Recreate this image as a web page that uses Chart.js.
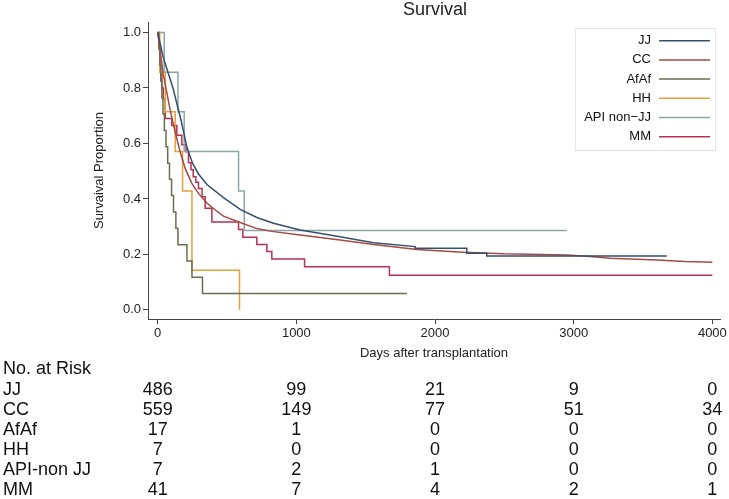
<!DOCTYPE html>
<html>
<head>
<meta charset="utf-8">
<script src="https://cdn.jsdelivr.net/npm/chart.js@4.4.1/dist/chart.umd.min.js"></script>
<style>
  html, body { margin: 0; padding: 0; background: #fff; }
  #wrap { position: relative; width: 729px; height: 499px; }
</style>
</head>
<body>
<div id="wrap"><canvas id="km" width="729" height="499"></canvas></div>
<script>
/* Kaplan-Meier survival by donor/recipient group + number-at-risk table */

const dayTicks = [0, 1000, 2000, 3000, 4000];
const survTicks = [0, 0.2, 0.4, 0.6, 0.8, 1.0];

const groups = ['JJ', 'CC', 'AfAf', 'HH', 'API non\u2212JJ', 'MM'];
const riskLabels = ['JJ', 'CC', 'AfAf', 'HH', 'API-non JJ', 'MM'];
const groupColors = ['#34506e', '#a64a44', '#66714f', '#e6a03c', '#8ea5a8', '#b8304f'];

// curves (days, survival proportion)
const jjDays = [0, 40, 110, 170, 210, 250, 294, 355, 474, 595, 715, 835, 1027, 1315, 1556, 1857, 1857, 2229, 2229, 2373, 2373, 3671];
const jjSurv = [1, 0.91, 0.80, 0.68, 0.588, 0.53, 0.49, 0.452, 0.405, 0.362, 0.333, 0.312, 0.288, 0.264, 0.242, 0.228, 0.222, 0.222, 0.204, 0.204, 0.194, 0.194];

const ccDays = [0, 40, 90, 126, 162, 198, 247, 294, 355, 415, 474, 595, 715, 823, 1000, 1315, 1556, 1870, 2200, 2500, 2950, 3118, 3262, 3599, 3803, 4000];
const ccSurv = [1, 0.85, 0.72, 0.64, 0.57, 0.51, 0.455, 0.42, 0.385, 0.36, 0.338, 0.315, 0.293, 0.283, 0.272, 0.252, 0.236, 0.218, 0.208, 0.202, 0.198, 0.192, 0.186, 0.18, 0.174, 0.172];

const afDays = [0, 8, 15, 22, 30, 38, 48, 60, 72, 85, 100, 114, 131, 146, 211, 247, 323, 1797];
const afSurv = [1, 0.941, 0.882, 0.824, 0.765, 0.706, 0.647, 0.588, 0.529, 0.471, 0.412, 0.353, 0.294, 0.235, 0.176, 0.118, 0.059, 0.059];

const hhDays = [0, 15, 55, 126, 179, 247, 590];
const hhSurv = [1, 0.857, 0.714, 0.571, 0.429, 0.143, 0];

const apiDays = [0, 47, 146, 191, 583, 624, 2950];
const apiSurv = [1, 0.857, 0.714, 0.571, 0.429, 0.286, 0.286];

const mmDays = [0, 8, 15, 22, 30, 40, 54, 102, 138, 174, 205, 222, 240, 256, 275, 294, 320, 342, 391, 583, 614, 715, 787, 823, 1059, 1671, 4000];
const mmSurv = [1, 0.95, 0.90, 0.85, 0.80, 0.76, 0.69, 0.665, 0.63, 0.595, 0.57, 0.53, 0.505, 0.48, 0.46, 0.438, 0.408, 0.366, 0.317, 0.29, 0.262, 0.236, 0.21, 0.183, 0.155, 0.125, 0.125];

// number at risk at 0/1000/2000/3000/4000 days
const riskJJ = [486, 99, 21, 9, 0];
const riskCC = [559, 149, 77, 51, 34];
const riskAfAf = [17, 1, 0, 0, 0];
const riskHH = [7, 0, 0, 0, 0];
const riskAPI = [7, 2, 1, 0, 0];
const riskMM = [41, 7, 4, 2, 1];

const curves = [
  { days: jjDays, surv: jjSurv, stepped: false },
  { days: ccDays, surv: ccSurv, stepped: false },
  { days: afDays, surv: afSurv, stepped: true },
  { days: hhDays, surv: hhSurv, stepped: true },
  { days: apiDays, surv: apiSurv, stepped: true },
  { days: mmDays, surv: mmSurv, stepped: true }
];
const riskRows = [riskJJ, riskCC, riskAfAf, riskHH, riskAPI, riskMM];

const FONT = '"Liberation Sans", Arial, sans-serif';

const extras = {
  id: 'kmExtras',
  afterDraw(chart) {
    const { ctx, chartArea } = chart;
    const xs = chart.scales.x;
    ctx.save();

    // title
    ctx.fillStyle = '#222';
    ctx.font = '18px ' + FONT;
    ctx.textAlign = 'center';
    ctx.textBaseline = 'middle';
    ctx.fillText('Survival', (chartArea.left + chartArea.right) / 2 + 1, 10);

    // legend box
    ctx.strokeStyle = '#e6e6e6';
    ctx.lineWidth = 1;
    ctx.strokeRect(575.5, 28.5, 140, 122);
    ctx.font = '13px ' + FONT;
    ctx.textAlign = 'right';
    groups.forEach((g, i) => {
      const y = 40.7 + i * 19.2;
      ctx.fillStyle = '#111';
      ctx.fillText(g, 651, y);
      ctx.strokeStyle = groupColors[i];
      ctx.lineWidth = 1.5;
      ctx.beginPath();
      ctx.moveTo(659, y);
      ctx.lineTo(710, y);
      ctx.stroke();
    });

    // number at risk table
    ctx.fillStyle = '#111';
    ctx.font = '18px ' + FONT;
    ctx.textAlign = 'left';
    ctx.fillText('No. at Risk', 3, 369.5);
    riskRows.forEach((row, i) => {
      const y = 389.6 + i * 20.1;
      ctx.textAlign = 'left';
      ctx.fillText(riskLabels[i], 3, y);
      ctx.textAlign = 'center';
      row.forEach((n, j) => ctx.fillText(String(n), xs.getPixelForValue(dayTicks[j]), y));
    });
    ctx.restore();
  }
};

new Chart(document.getElementById('km'), {
  type: 'line',
  data: {
    datasets: curves.map((c, i) => ({
      label: groups[i],
      data: c.days.map((d, k) => ({ x: d, y: c.surv[k] })),
      borderColor: groupColors[i],
      borderWidth: 1.5,
      pointRadius: 0,
      stepped: c.stepped,
      tension: 0,
      fill: false
    }))
  },
  options: {
    responsive: false,
    animation: false,
    layout: { padding: { left: 0, top: 22, right: 9, bottom: 135 } },
    plugins: {
      legend: { display: false },
      tooltip: { enabled: false },
      title: { display: false }
    },
    scales: {
      x: {
        type: 'linear',
        min: -70,
        max: 4055,
        afterBuildTicks: s => { s.ticks = dayTicks.map(v => ({ value: v })); },
        afterFit: s => { s.height = 45; },
        ticks: { color: '#222', font: { family: FONT, size: 13 }, padding: 2, callback: v => String(v) },
        grid: { drawOnChartArea: false, drawTicks: true, tickLength: 5, color: '#444' },
        border: { display: true, color: '#444', width: 1 },
        title: { display: true, text: 'Days after transplantation', color: '#222', font: { family: FONT, size: 13 }, padding: { top: 0, bottom: 3 } }
      },
      y: {
        min: -0.033,
        max: 1.038,
        afterBuildTicks: s => { s.ticks = survTicks.map(v => ({ value: v })); },
        afterFit: s => { s.width = 148; },
        ticks: { color: '#222', font: { family: FONT, size: 13 }, padding: 2, callback: v => v.toFixed(1) },
        grid: { drawOnChartArea: false, drawTicks: true, tickLength: 5, color: '#444' },
        border: { display: true, color: '#444', width: 1 },
        title: { display: true, text: 'Survaival Proportion', color: '#222', font: { family: FONT, size: 13 }, padding: { top: 92, bottom: 0 } }
      }
    }
  },
  plugins: [extras]
});
</script>
</body>
</html>
